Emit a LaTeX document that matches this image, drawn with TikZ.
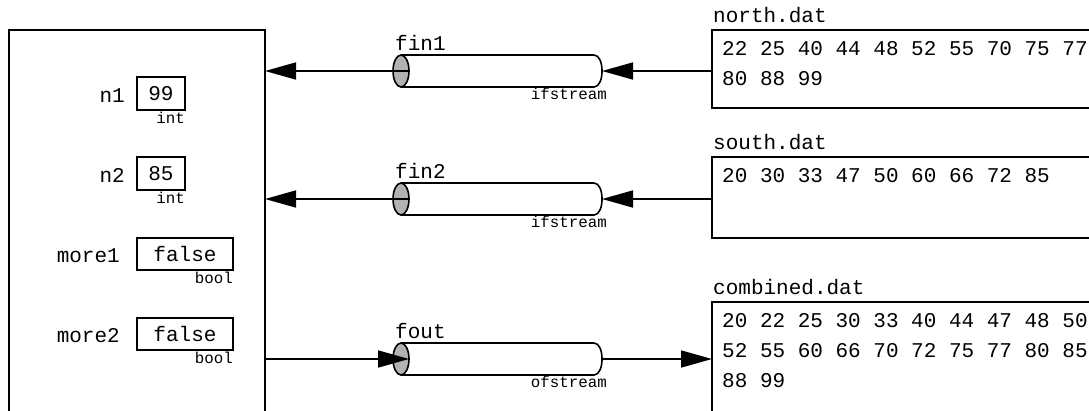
\documentclass[tikz,border=0pt]{standalone}
\usepackage{fontspec}
\newfontfamily\cour{Liberation Mono}
\usetikzlibrary{arrows.meta}
\newcommand\drawcyl[2]{%
  \coordinate (#1L) at (409,#2);
  \coordinate (#1R) at (602,#2);
  \draw[cyl, fill=white] (401,#2-16) -- (594,#2-16) .. controls (604.7,#2-16) and (604.7,#2+16) .. (594,#2+16) -- (401,#2+16);
  \draw[cyl, fill=black!30] (401,#2) ellipse [x radius=8, y radius=16];
}
\begin{document}
\begin{tikzpicture}[x=1pt,y=-1pt,
  big/.style={font=\cour\fontsize{21}{25}\selectfont, inner sep=0pt},
  small/.style={font=\cour\fontsize{15.8}{18}\selectfont, inner sep=0pt},
  box/.style={draw, line width=1.6pt, outer sep=0pt, inner sep=0pt},
  arr/.style={line width=1.6pt, -{Triangle[length=31pt,width=17pt]}},
  cyl/.style={line width=1.6pt},
]
\useasboundingbox (0,0) rectangle (1089,410);
\clip (0,0) rectangle (1089,410);

% program box
\node[box, anchor=north west, minimum width=256, minimum height=420] (prog) at (9,30) {};

% variables
\node[box, big, minimum width=48, minimum height=33] (v1) at (161,93.5) {99};
\node[box, big, minimum width=48, minimum height=33] (v2) at (161,173.5) {85};
\node[box, big, minimum width=96, minimum height=32] (v3) at (185,254) {false};
\node[box, big, minimum width=96, minimum height=32] (v4) at (185,334) {false};

\node[big, anchor=base east] (l1) at (125,102) {n1};
\node[big, anchor=base east] (l2) at (125,182) {n2};
\node[big, anchor=base east] (l3) at (120,262.5) {more1};
\node[big, anchor=base east] (l4) at (120,342.5) {more2};

\node[small, anchor=base east] (t1) at (185,123) {int};
\node[small, anchor=base east] (t2) at (185,203) {int};
\node[small, anchor=base east] (t3) at (233,283) {bool};
\node[small, anchor=base east] (t4) at (233,363) {bool};

% streams
\drawcyl{cA}{71}
\drawcyl{cB}{199}
\drawcyl{cC}{359}

\node[big, anchor=base west] (s1) at (395,50) {fin1};
\node[big, anchor=base west] (s2) at (395,178) {fin2};
\node[big, anchor=base west] (s3) at (395,338) {fout};
\node[small, anchor=base east] (st1) at (607,99) {ifstream};
\node[small, anchor=base east] (st2) at (607,227) {ifstream};
\node[small, anchor=base east] (st3) at (607,387) {ofstream};

% files
\node[box, anchor=north west, minimum width=420, minimum height=78] (nbox) at (712,30) {};
\node[box, anchor=north west, minimum width=420, minimum height=81] (sbox) at (712,157) {};
\node[box, anchor=north west, minimum width=420, minimum height=200] (cbox) at (712,302) {};

\node[big, anchor=base west] (f1) at (713,22) {north.dat};
\node[big, anchor=base west] (f2) at (713,149) {south.dat};
\node[big, anchor=base west] (f3) at (713,294) {combined.dat};

\node[big, anchor=base west] (d1a) at (722,55) {22 25 40 44 48 52 55 70 75 77};
\node[big, anchor=base west] (d1b) at (722,85) {80 88 99};
\node[big, anchor=base west] (d2a) at (722,182) {20 30 33 47 50 60 66 72 85};
\node[big, anchor=base west] (d3a) at (722,327) {20 22 25 30 33 40 44 47 48 50};
\node[big, anchor=base west] (d3b) at (722,357) {52 55 60 66 70 72 75 77 80 85};
\node[big, anchor=base west] (d3c) at (722,387) {88 99};

% connectors
\draw[arr] (cAL) -- (prog.east |- cAL);
\draw[arr] (nbox.west |- cAR) -- (cAR);
\draw[arr] (cBL) -- (prog.east |- cBL);
\draw[arr] (sbox.west |- cBR) -- (cBR);
\draw[arr] (prog.east |- cCL) -- (cCL);
\draw[arr] (cCR) -- (cbox.west |- cCR);
\end{tikzpicture}
\end{document}
